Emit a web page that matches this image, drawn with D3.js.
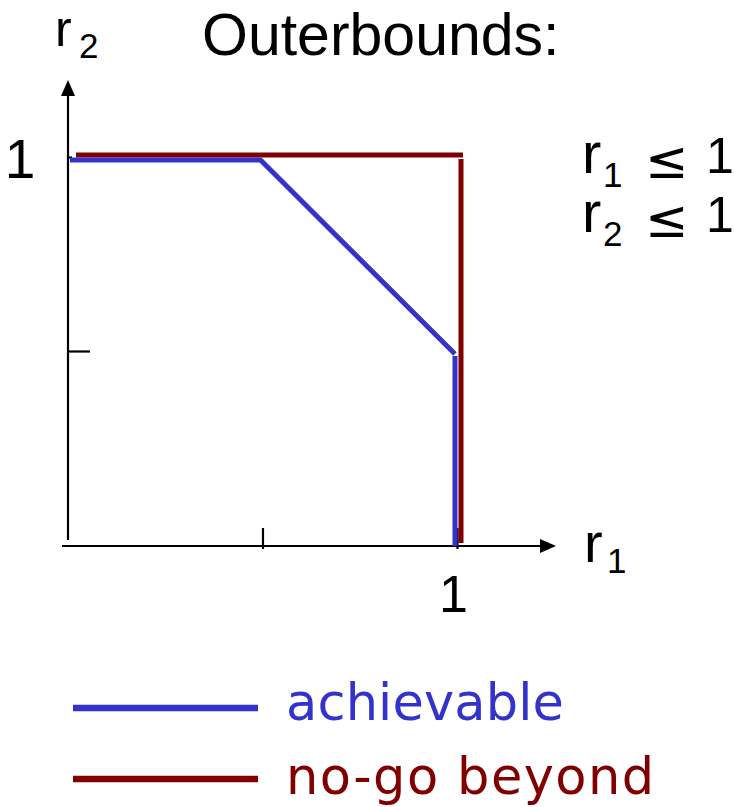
<!DOCTYPE html>
<html>
<head>
<meta charset="utf-8">
<script src="https://cdn.jsdelivr.net/npm/d3@7"></script>
<style>
  html, body { margin: 0; padding: 0; background: #fff; }
  svg { display: block; }
</style>
</head>
<body>
<svg id="chart" width="735" height="807"></svg>
<script>
// ---- data ----
const achievableR1 = [0, 0.5, 1, 1];
const achievableR2 = [1, 1, 0.5, 0];
const noGoR1 = [0, 1, 1];
const noGoR2 = [1, 1, 0];
const xTicks = [0.5, 1];
const xTickLabels = ["", "1"];
const yTicks = [0.5, 1];
const yTickLabels = ["", "1"];
const legendLabels = ["achievable", "no-go beyond"];
const constraintSubs = ["1", "2"];
const titleText = "Outerbounds:";

const BLUE = "#3333cc", RED = "#800000";
const svg = d3.select("#chart");

const x = d3.scaleLinear().domain([0, 1]).range([68, 457]);
const y = d3.scaleLinear().domain([0, 1]).range([545, 157]);

// arrow markers
const defs = svg.append("defs");
defs.append("marker").attr("id", "arrow")
  .attr("viewBox", "0 0 16 14").attr("refX", 0).attr("refY", 7)
  .attr("markerWidth", 16).attr("markerHeight", 14)
  .attr("markerUnits", "userSpaceOnUse").attr("orient", "auto")
  .append("path").attr("d", "M0,0 L16,7 L0,14 Z").attr("fill", "#000");

// axes lines
svg.append("line").attr("x1", x(0)).attr("x2", x(0))
  .attr("y1", y(0) - 5).attr("y2", 96)
  .attr("stroke", "#000").attr("stroke-width", 2.2).attr("marker-end", "url(#arrow)");
svg.append("line").attr("x1", x(0) - 6).attr("x2", 540)
  .attr("y1", y(0) + 1).attr("y2", y(0) + 1)
  .attr("stroke", "#000").attr("stroke-width", 2.2).attr("marker-end", "url(#arrow)");

const SANS = "'Liberation Sans', Arial, sans-serif";

// y axis ticks
const yTickLen = { 0.5: 22, 1: 4 };
const yAxis = d3.axisLeft(y).tickValues(yTicks)
  .tickFormat((d, i) => yTickLabels[i]).tickSizeOuter(0).tickPadding(0);
const gy = svg.append("g").attr("transform", `translate(${x(0)},0)`).call(yAxis);
gy.select(".domain").remove();
gy.selectAll(".tick line").attr("x2", d => yTickLen[d]).attr("stroke", "#000").attr("stroke-width", 2.2);
gy.selectAll(".tick text").attr("x", -48).attr("dy", null).attr("y", 20)
  .attr("text-anchor", "middle")
  .style("font-family", SANS).style("font-size", "55px").attr("fill", "#000");

// x axis ticks
const xAxis = d3.axisBottom(x).tickValues(xTicks)
  .tickFormat((d, i) => xTickLabels[i]).tickSizeOuter(0).tickPadding(0);
const gx = svg.append("g").attr("transform", `translate(0,${y(0) + 1})`).call(xAxis);
gx.select(".domain").remove();
gx.selectAll(".tick line").attr("y1", -18).attr("y2", 3).attr("stroke", "#000").attr("stroke-width", 2.2);
gx.selectAll(".tick text").attr("y", 66).attr("dy", null).attr("dx", -4)
  .attr("text-anchor", "middle")
  .style("font-family", SANS).style("font-size", "52px").attr("fill", "#000");

// series lines
function pts(r1, r2) { return r1.map((v, i) => ({ r1: v, r2: r2[i] })); }
function line(dx, dy) {
  return d3.line()
    .x(d => Math.max(x(d.r1), x(0) + 4) + dx)
    .y(d => Math.min(y(d.r2), y(0) - 4) + dy);
}
const ach = pts(achievableR1, achievableR2);
const nogo = pts(noGoR1, noGoR2);

// no-go: horizontal and vertical segments
svg.append("path").attr("d", line(4, -2)(nogo.slice(0, 2)).replace(/L([\d.]+)/, (m, a) => "L" + (+a + 2)))
  .attr("fill", "none").attr("stroke", RED).attr("stroke-width", 5);
svg.append("path").attr("d", line(4, 2)(nogo.slice(1, 3)))
  .attr("fill", "none").attr("stroke", RED).attr("stroke-width", 5);

// achievable
svg.append("path").attr("d", line(-2, 3)(ach.slice(0, 3)))
  .attr("fill", "none").attr("stroke", BLUE).attr("stroke-width", 5).attr("stroke-linejoin", "round");
svg.append("path").attr("d", line(-2, 5)(ach.slice(2, 4)))
  .attr("fill", "none").attr("stroke", BLUE).attr("stroke-width", 5);

// axis labels
function rLabel(xr, base, sub, xs, baseSub, rSize, subSize) {
  svg.append("text").attr("x", xr).attr("y", base).text("r")
    .style("font-family", SANS).style("font-size", rSize + "px");
  svg.append("text").attr("x", xs).attr("y", baseSub).text(sub)
    .style("font-family", SANS).style("font-size", subSize + "px");
}
rLabel(55, 46, "2", 79, 58, 50, 35);
rLabel(584, 562, "1", 607, 573, 56, 35);

// title
svg.append("text").attr("x", 202).attr("y", 55).text(titleText)
  .style("font-family", SANS).style("font-size", "59px");

// constraints
constraintSubs.forEach((s, i) => {
  const b = 173 + i * 59;
  rLabel(582, b, s, 603, b + 14, 58, 35);
  svg.append("text").attr("x", 645).attr("y", b + 5).text("≤")
    .style("font-family", "'DejaVu Sans', sans-serif").style("font-size", "52px");
  svg.append("text").attr("x", 706).attr("y", b).text("1")
    .style("font-family", SANS).style("font-size", "50px");
});

// legend
const legendColors = [BLUE, RED];
const legendLineY = [708, 779];
const legendTextY = [720, 794];
const legendWidths = [278, 368];
legendLabels.forEach((lab, i) => {
  svg.append("line").attr("x1", 73).attr("x2", 258)
    .attr("y1", legendLineY[i]).attr("y2", legendLineY[i])
    .attr("stroke", legendColors[i]).attr("stroke-width", 6.5);
  svg.append("text").attr("x", 286).attr("y", legendTextY[i]).text(lab)
    .attr("fill", legendColors[i])
    .attr("textLength", legendWidths[i]).attr("lengthAdjust", "spacing")
    .style("font-family", "'DejaVu Sans', Verdana, sans-serif").style("font-size", "51px");
});
</script>
</body>
</html>
